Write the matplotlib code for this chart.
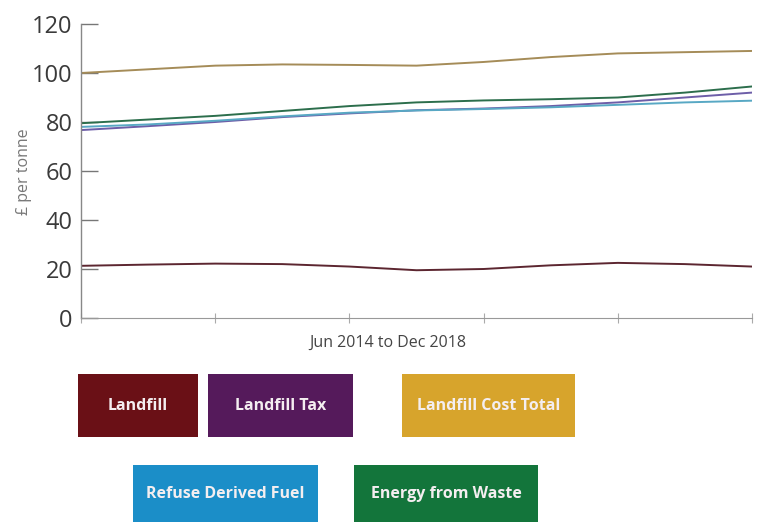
import matplotlib
matplotlib.use("Agg")
import matplotlib.pyplot as plt
from matplotlib.patches import Rectangle

# Data, 11 evenly spaced points Jun 2014 -> Dec 2018
periods = list(range(11))
landfill = [21.3, 21.8, 22.2, 22.0, 21.0, 19.5, 20.0, 21.5, 22.5, 22.0, 21.0]
landfill_tax = [76.7, 78.3, 80.0, 82.0, 83.5, 84.8, 85.5, 86.5, 88.0, 90.0, 92.0]
landfill_total = [100.0, 101.5, 103.0, 103.5, 103.3, 103.0, 104.5, 106.5, 108.0, 108.5, 109.0]
rdf = [78.0, 79.0, 80.5, 82.3, 83.8, 84.7, 85.3, 86.0, 87.0, 88.0, 88.7]
efw = [79.5, 81.0, 82.5, 84.5, 86.5, 88.0, 88.8, 89.3, 90.0, 92.0, 94.5]

series_names = ["Landfill", "Landfill Tax", "Landfill Cost Total",
                "Refuse Derived Fuel", "Energy from Waste"]
box_colors = ["#6a1016", "#551a5b", "#d7a42c", "#1b8ec8", "#13753b"]
line_colors = ["#5c2630", "#6d5ea8", "#a58c58", "#58a8c4", "#2c6e4c"]

yticks = [0, 20, 40, 60, 80, 100, 120]
xlabel = "Jun 2014 to Dec 2018"
ylabel = "£ per tonne"

plt.rcParams["font.family"] = ["Open Sans", "DejaVu Sans"]

fig = plt.figure(figsize=(7.59, 5.22), dpi=100)
ax = fig.add_axes([81/759, 1-318/522, (752-81)/759, (318-24)/522])

order = [2, 4, 1, 3, 0]
data = [landfill, landfill_tax, landfill_total, rdf, efw]
for i in order:
    ax.plot(periods, data[i], color=line_colors[i], lw=1.4, solid_capstyle="round")

ax.set_xlim(0, 10)
ax.set_ylim(0, 120)
ax.set_yticks(yticks)
ax.set_yticklabels([str(v) for v in yticks], fontsize=17, color="#3a3a3a")
ax.set_xticks([0, 2, 4, 6, 8, 10])
ax.set_xticklabels([])
ax.tick_params(axis="y", direction="in", length=12, width=1.0, color="#777777", pad=6)
ax.tick_params(axis="x", direction="inout", length=7, width=0.8, color="#aaaaaa")
for s in ["top", "right"]:
    ax.spines[s].set_visible(False)
ax.spines["left"].set_color("#888888")
ax.spines["bottom"].set_color("#999999")
ax.spines["left"].set_linewidth(1.0)
ax.spines["bottom"].set_linewidth(0.8)

ax.set_xlabel(xlabel, fontsize=11.5, color="#444444")
ax.xaxis.set_label_coords((388-81)/(752-81), -0.056)
fig.text(24/759, 1-172/522, ylabel, rotation=90, fontsize=11.5, color="#777777",
         ha="center", va="center")

# Legend boxes (pixel boxes)
boxes = [(78, 374, 198, 437), (208, 374, 353, 437), (402, 374, 575, 437),
         (133, 465, 318, 522), (354, 465, 538, 522)]
for (x0, y0, x1, y1), name, c in zip(boxes, series_names, box_colors):
    fig.patches.append(Rectangle((x0/759, 1-y1/522), (x1-x0)/759, (y1-y0)/522,
                                 transform=fig.transFigure, facecolor=c,
                                 edgecolor="none"))
    yc = (y0 + y1) / 2 if y1 < 520 else 494
    fig.text((x0+x1)/2/759, 1-yc/522, name, color="#f4eef0", fontsize=11.5,
             fontweight="bold", ha="center", va="center")

fig.savefig("out.png", dpi=100)
